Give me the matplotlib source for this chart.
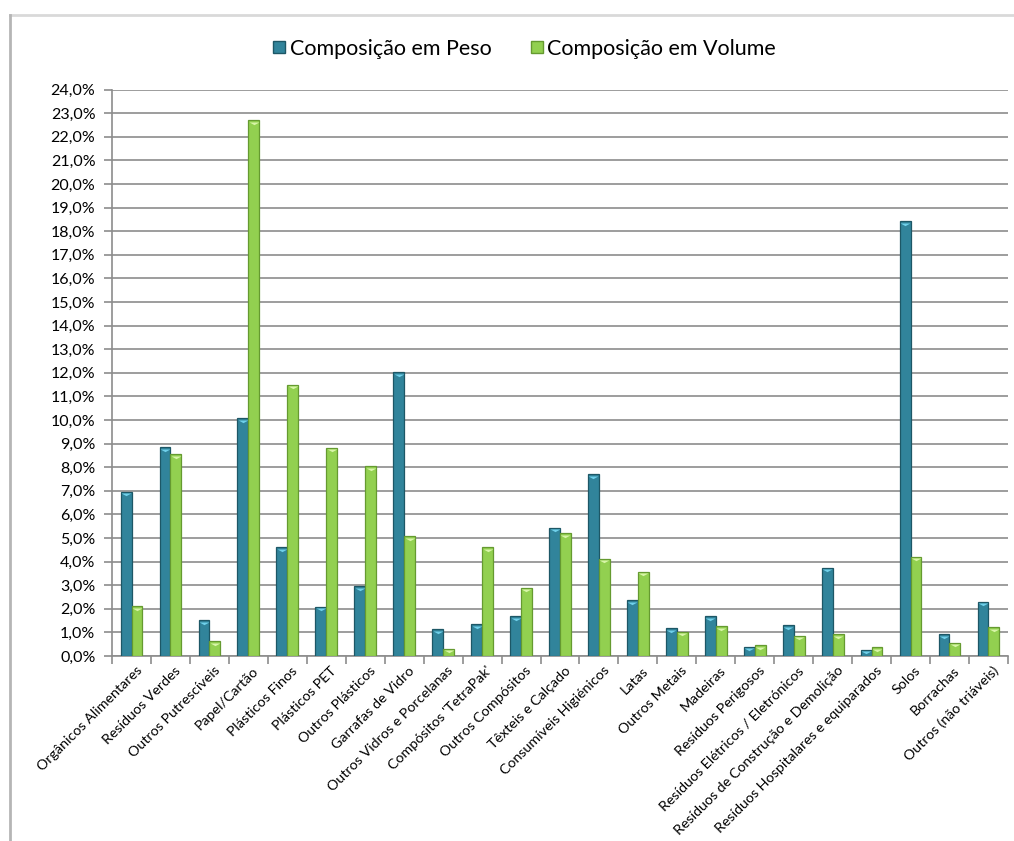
import numpy as np
import matplotlib
matplotlib.use("Agg")
import matplotlib.pyplot as plt
from matplotlib.path import Path
from matplotlib.lines import Line2D
from matplotlib.ticker import FuncFormatter, MultipleLocator, FixedLocator
from matplotlib.transforms import offset_copy, ScaledTranslation

plt.rcParams['font.family'] = ['Lato', 'DejaVu Sans']

categorias = [
    "Orgânicos Alimentares", "Resíduos Verdes", "Outros Putrescíveis",
    "Papel/Cartão", "Plásticos Finos", "Plásticos PET", "Outros Plásticos",
    "Garrafas de Vidro", "Outros Vidros e Porcelanas", "Compósitos 'TetraPak'",
    "Outros Compósitos", "Têxteis e Calçado", "Consumíveis Higiénicos",
    "Latas", "Outros Metais", "Madeiras", "Resíduos Perigosos",
    "Resíduos Elétricos / Eletrónicos", "Resíduos de Construção e Demolição",
    "Resíduos Hospitalares e equiparados", "Solos", "Borrachas",
    "Outros (não triáveis)",
]

# percentagens (%)
peso = [6.95, 8.85, 1.51, 10.08, 4.60, 2.09, 2.96, 12.02, 1.14, 1.34, 1.68,
        5.43, 7.69, 2.37, 1.17, 1.69, 0.39, 1.31, 3.74, 0.27, 18.42, 0.92, 2.29]
volume = [2.10, 8.54, 0.62, 22.69, 11.50, 8.82, 8.03, 5.08, 0.31, 4.61, 2.89,
          5.21, 4.12, 3.57, 1.03, 1.27, 0.45, 0.85, 0.93, 0.37, 4.20, 0.55, 1.22]

cor_peso = "#31849B"
cor_peso_borda = "#1d5766"
cor_peso_topo = "#6fd0ea"
cor_vol = "#92D050"
cor_vol_borda = "#659a30"
cor_vol_topo = "#d8f5a8"

fig = plt.figure(figsize=(10.14, 8.41), dpi=100)
ax = fig.add_axes([0.1105, 0.22, 0.8835, 0.6735])

x = np.arange(len(categorias))
w = 0.28

ax.bar(x - w / 2, peso, w, color=cor_peso, edgecolor=cor_peso_borda,
       linewidth=0.9, zorder=3)
ax.bar(x + w / 2, volume, w, color=cor_vol, edgecolor=cor_vol_borda,
       linewidth=0.9, zorder=3)

# chanfro no topo de cada barra
tri = Path([(-1, 0), (1, 0), (0, -0.55), (-1, 0)],
           [Path.MOVETO, Path.LINETO, Path.LINETO, Path.CLOSEPOLY])
trans = offset_copy(ax.transData, fig=fig, y=-1.5, units='dots')
ax.plot(x - w / 2, peso, linestyle='none', marker=tri, markersize=7.0,
        color=cor_peso_topo, markeredgewidth=0, transform=trans, zorder=4)
ax.plot(x + w / 2, volume, linestyle='none', marker=tri, markersize=7.0,
        color=cor_vol_topo, markeredgewidth=0, transform=trans, zorder=4)

ax.set_xlim(-0.5, len(categorias) - 0.5)
ax.set_ylim(0, 24)
ax.yaxis.set_major_locator(MultipleLocator(1))
ax.yaxis.set_major_formatter(FuncFormatter(lambda v, p: f"{v:.1f}%".replace('.', ',')))
ax.grid(axis='y', color='#8c8c8c', linewidth=1.2, zorder=0)
ax.set_axisbelow(True)

for s in ['top', 'right']:
    ax.spines[s].set_visible(False)
for s in ['left', 'bottom']:
    ax.spines[s].set_color('#8c8c8c')
    ax.spines[s].set_linewidth(1.2)

ax.tick_params(axis='y', length=6, color='#8c8c8c', width=1.2,
               labelsize=11.5, pad=6, labelcolor='black')

ax.set_xticks(x)
ax.set_xticklabels(categorias, rotation=45, ha='right', va='top',
                   rotation_mode='anchor', fontsize=10.3)
ax.tick_params(axis='x', which='major', length=0, pad=6)
ax.xaxis.set_minor_locator(FixedLocator(np.arange(-0.5, len(categorias), 1.0)))
ax.tick_params(axis='x', which='minor', length=6, color='#8c8c8c', width=1.2)
desloc = ScaledTranslation(4 / 100, 0, fig.dpi_scale_trans)
for lbl in ax.get_xticklabels():
    lbl.set_transform(lbl.get_transform() + desloc)

handles = [
    Line2D([], [], linestyle='none', marker='s', markersize=8,
           markerfacecolor=cor_peso, markeredgecolor=cor_peso_borda),
    Line2D([], [], linestyle='none', marker='s', markersize=8,
           markerfacecolor=cor_vol, markeredgecolor=cor_vol_borda),
]
fig.legend(handles, ["Composição em Peso", "Composição em Volume"],
           loc='center', bbox_to_anchor=(0.517, 0.942), ncol=2,
           frameon=False, fontsize=15.5, handlelength=0.6,
           handletextpad=0.2, columnspacing=1.8)

# moldura da área do gráfico
fig.add_artist(Line2D([10 / 1014, 1.0], [1 - 15 / 841] * 2,
                      transform=fig.transFigure, color='#d9d9d9', linewidth=2))
fig.add_artist(Line2D([10 / 1014] * 2, [0.0, 1 - 15 / 841],
                      transform=fig.transFigure, color='#b5b5b5', linewidth=2))

fig.savefig("out.png", dpi=100, facecolor='white')
